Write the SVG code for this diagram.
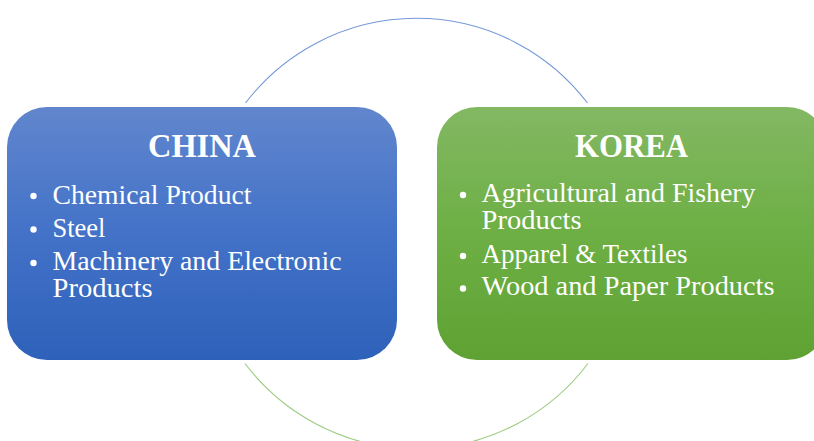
<svg xmlns="http://www.w3.org/2000/svg" width="814" height="441" viewBox="0 0 814 441">
  <defs>
    <linearGradient id="gBlue" x1="0" y1="0" x2="0" y2="1">
      <stop offset="0" stop-color="#6186cd"/>
      <stop offset="0.5" stop-color="#4372c8"/>
      <stop offset="1" stop-color="#2e61b9"/>
    </linearGradient>
    <linearGradient id="gGreen" x1="0" y1="0" x2="0" y2="1">
      <stop offset="0" stop-color="#83b863"/>
      <stop offset="0.5" stop-color="#6daf44"/>
      <stop offset="1" stop-color="#5fa233"/>
    </linearGradient>
    <style>
      .title { font-family: "Liberation Serif", "DejaVu Serif", serif; font-weight: bold; font-size: 34px; fill: #ffffff; text-anchor: middle; }
      .item { font-family: "Liberation Serif", "DejaVu Serif", serif; font-size: 27.5px; fill: #ffffff; }
      .bullet { fill: #ffffff; }
      .arc { fill: none; stroke-width: 1.1; }
    </style>
  </defs>
  <rect width="814" height="441" fill="#ffffff"/>
  <g id="connectors">
    <path class="arc" d="M 245.5 103 A 215 215 0 0 1 587.5 103" stroke="#7398d8"/>
    <path class="arc" d="M 245 363.5 A 215 215 0 0 0 588 363.5" stroke="#9ccb80"/>
  </g>
  <g id="china">
    <rect x="7" y="107" width="390" height="253" rx="40" ry="40" fill="url(#gBlue)"/>
    <text class="title" x="202" y="157" textLength="108" lengthAdjust="spacingAndGlyphs">CHINA</text>
    <circle class="bullet" cx="33.5" cy="196" r="3.2"/>
    <text class="item" x="52.5" y="203.5" textLength="199" lengthAdjust="spacingAndGlyphs">Chemical Product</text>
    <circle class="bullet" cx="33.5" cy="229.5" r="3.2"/>
    <text class="item" x="52.5" y="237" textLength="53" lengthAdjust="spacingAndGlyphs">Steel</text>
    <circle class="bullet" cx="33.5" cy="263" r="3.2"/>
    <text class="item"><tspan x="52.5" y="270" textLength="289" lengthAdjust="spacingAndGlyphs">Machinery and Electronic</tspan><tspan x="52.5" y="297" textLength="100" lengthAdjust="spacingAndGlyphs">Products</tspan></text>
  </g>
  <g id="korea">
    <rect x="437" y="107" width="390" height="253" rx="40" ry="40" fill="url(#gGreen)"/>
    <text class="title" x="631.5" y="157" textLength="113" lengthAdjust="spacingAndGlyphs">KOREA</text>
    <circle class="bullet" cx="463" cy="195" r="3.2"/>
    <text class="item"><tspan x="481.5" y="201.5" textLength="274" lengthAdjust="spacingAndGlyphs">Agricultural and Fishery</tspan><tspan x="481.5" y="229" textLength="100" lengthAdjust="spacingAndGlyphs">Products</tspan></text>
    <circle class="bullet" cx="463" cy="256" r="3.2"/>
    <text class="item" x="481.5" y="262.5" textLength="206" lengthAdjust="spacingAndGlyphs">Apparel &amp; Textiles</text>
    <circle class="bullet" cx="463" cy="288.5" r="3.2"/>
    <text class="item" x="481.5" y="295" textLength="293" lengthAdjust="spacingAndGlyphs">Wood and Paper Products</text>
  </g>
</svg>
